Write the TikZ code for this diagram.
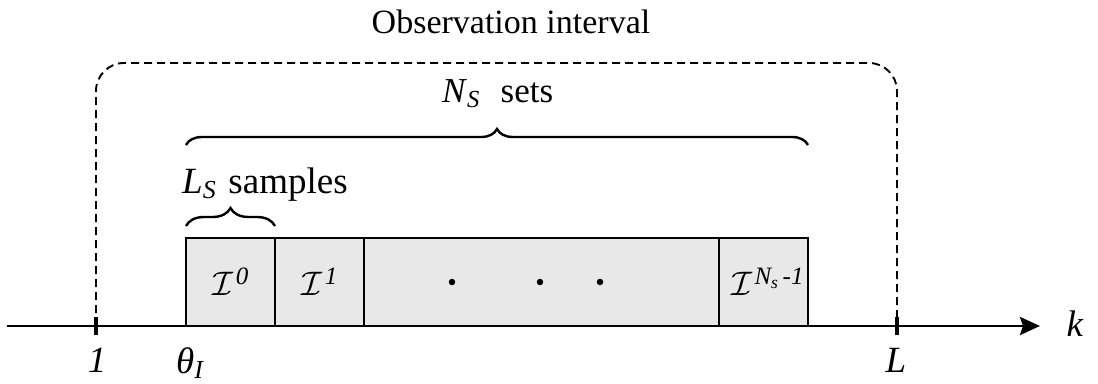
\RequirePackage{fix-cm}
\documentclass[tikz,border=0pt]{standalone}
\usepackage{fontspec}
\setmainfont{Liberation Serif}
\usetikzlibrary{arrows.meta,decorations.pathreplacing}
\definecolor{cellgray}{RGB}{232,232,232}
% calligraphic set symbol with an enlarged italic exponent
\newcommand{\setsym}[1]{$\mathcal{I}$\hspace{2pt}\raisebox{11pt}{\fontsize{25}{30}\selectfont\itshape #1}}
\begin{document}
\begin{tikzpicture}[x=1pt,y=-1pt,
  lbl/.style={font=\fontsize{34}{40}\selectfont, inner sep=0pt},
  biglbl/.style={font=\fontsize{37}{42}\selectfont, inner sep=0pt},
  cell/.style={draw, line width=2.8pt, fill=cellgray, minimum height=88pt,
    inner sep=0pt, outer sep=0pt, anchor=south west, font=\fontsize{34}{40}\selectfont},
  axisline/.style={line width=2.8pt},
  tickmark/.style={line width=4pt},
  frame/.style={line width=1.9pt, dash pattern=on 8pt off 5pt, rounded corners=28pt},
  bracestyle/.style={line width=2.4pt, decorate, decoration={brace, amplitude=#1}},
  dot/.style={circle, fill=black, inner sep=0pt, minimum size=6.5pt}]
\useasboundingbox (0,0) rectangle (1098,383);

% sample cells
\node[cell, minimum width=89pt]  (c0) at (186,326) {\setsym{0}};
\node[cell, minimum width=89pt]  (c1) at (275,326) {\setsym{1}};
\node[cell, minimum width=355pt] (cm) at (364,326) {};
\node[cell, minimum width=89pt]  (cn) at (719,326) {\hspace*{8pt}\setsym{N\textsubscript{s}\,-1}};

% dots in the middle cell
\node[dot] (d1) at (452,282) {};
\node[dot] (d2) at (540,282) {};
\node[dot] (d3) at (600,282) {};

% time axis
\coordinate (axL) at (7,326);
\coordinate (axR) at (1040,326);
\draw[axisline, -{Stealth[length=20pt,width=18pt,inset=3pt]}] (axL) -- (axR);
\node[biglbl] (k) at (1075,324) {\textit{k}};

% ticks and their labels
\coordinate (t1) at (96,326);
\coordinate (tL) at (897,326);
\draw[tickmark] ([yshift=-9pt]t1) -- ([yshift=9pt]t1);
\draw[tickmark] ([yshift=-9pt]tL) -- ([yshift=9pt]tL);
\node[biglbl] (one) at (97,360) {\textit{1}};
\node[biglbl, anchor=base west] (theta) at (176,373) {\textit{θ}\textsubscript{\textit{I}}};
\node[biglbl] (ell) at (896,360) {\textit{L}};

% observation interval frame
\draw[frame] (t1) -- (96,63) -- (897,63) -- (tL);
\node[lbl] (obs) at (511,22) {Observation interval};

% braces
\coordinate (bNa) at (186,145);
\coordinate (bNb) at (808,145);
\draw[bracestyle=16pt] (bNa) -- (bNb);
\node[lbl, font=\fontsize{35}{40}\selectfont, anchor=base west] (ns) at (442,102)
  {\textit{N}\textsubscript{\textit{S}}\hspace{12pt} sets};

\coordinate (bLa) at (186,226);
\coordinate (bLb) at (275,226);
\draw[bracestyle=18pt] (bLa) -- (bLb);
\node[biglbl, anchor=base west] (ls) at (182,193)
  {\textit{L}\textsubscript{\textit{S}}\hspace{3pt} samples};
\end{tikzpicture}
\end{document}
